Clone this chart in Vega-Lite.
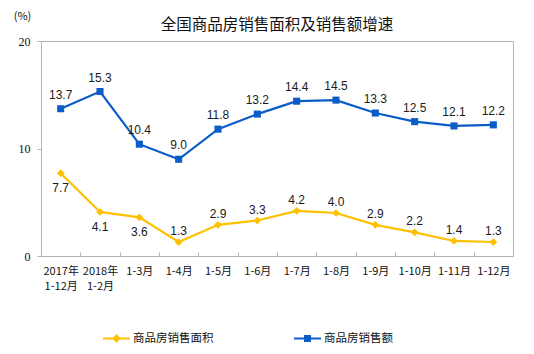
{
  "$schema": "https://vega.github.io/schema/vega-lite/v6.json",
  "autosize": "none",
  "width": 472,
  "height": 215,
  "padding": {"left": 41, "top": 41, "right": 21, "bottom": 98},
  "background": "white",
  "config": {
    "view": {"stroke": "#b4b4b4", "strokeWidth": 1},
    "axis": {"grid": false, "domainColor": "#b4b4b4", "tickColor": "#b4b4b4", "labelColor": "#111", "titleColor": "#111"}
  },
  "title": {
    "text": "全国商品房销售面积及销售额增速",
    "font": "Noto Sans CJK SC",
    "fontSize": 15.5,
    "fontWeight": "normal",
    "color": "#111",
    "anchor": "middle",
    "offset": 7,
    "dy": 30
  },
  "data": {
    "values": [
      {"period": "2017年 1-12月", "series": "商品房销售面积", "value": 7.7},
      {"period": "2018年 1-2月", "series": "商品房销售面积", "value": 4.1},
      {"period": "1-3月", "series": "商品房销售面积", "value": 3.6},
      {"period": "1-4月", "series": "商品房销售面积", "value": 1.3},
      {"period": "1-5月", "series": "商品房销售面积", "value": 2.9},
      {"period": "1-6月", "series": "商品房销售面积", "value": 3.3},
      {"period": "1-7月", "series": "商品房销售面积", "value": 4.2},
      {"period": "1-8月", "series": "商品房销售面积", "value": 4.0},
      {"period": "1-9月", "series": "商品房销售面积", "value": 2.9},
      {"period": "1-10月", "series": "商品房销售面积", "value": 2.2},
      {"period": "1-11月", "series": "商品房销售面积", "value": 1.4},
      {"period": "1-12月", "series": "商品房销售面积", "value": 1.3},
      {"period": "2017年 1-12月", "series": "商品房销售额", "value": 13.7},
      {"period": "2018年 1-2月", "series": "商品房销售额", "value": 15.3},
      {"period": "1-3月", "series": "商品房销售额", "value": 10.4},
      {"period": "1-4月", "series": "商品房销售额", "value": 9.0},
      {"period": "1-5月", "series": "商品房销售额", "value": 11.8},
      {"period": "1-6月", "series": "商品房销售额", "value": 13.2},
      {"period": "1-7月", "series": "商品房销售额", "value": 14.4},
      {"period": "1-8月", "series": "商品房销售额", "value": 14.5},
      {"period": "1-9月", "series": "商品房销售额", "value": 13.3},
      {"period": "1-10月", "series": "商品房销售额", "value": 12.5},
      {"period": "1-11月", "series": "商品房销售额", "value": 12.1},
      {"period": "1-12月", "series": "商品房销售额", "value": 12.2}
    ]
  },
  "encoding": {
    "x": {
      "field": "period", "type": "nominal", "sort": null, "bandPosition": 0.5,
      "scale": {"type": "band", "paddingInner": 0, "paddingOuter": 0},
      "axis": {
        "title": null, "labelAngle": 0, "tickBand": "extent", "tickSize": -4,
        "labelExpr": "split(datum.label, ' ')", "labelFont": "Noto Sans CJK SC", "labelFontSize": 11,
        "labelLineHeight": 15, "labelPadding": 13, "labelBaseline": "top"
      }
    },
    "y": {
      "field": "value", "type": "quantitative",
      "scale": {"domain": [0, 20], "nice": false},
      "axis": {
        "values": [0, 10, 20], "title": "(%)", "titleAngle": 0, "titleX": -19, "titleY": -25,
        "titleAlign": "center", "titleBaseline": "middle", "titleFont": "Noto Sans CJK SC", "titleFontSize": 11, "titleFontWeight": "normal",
        "labelFont": "Liberation Serif", "labelFontSize": 12, "tickSize": 4, "labelPadding": 7
      }
    },
    "color": {
      "field": "series", "type": "nominal", "sort": ["商品房销售面积", "商品房销售额"],
      "scale": {"domain": ["商品房销售面积", "商品房销售额"], "range": ["#FFC000", "#0A5CC7"]},
      "legend": {
        "title": null, "orient": "none", "direction": "horizontal", "columns": 2,
        "legendX": 62, "legendY": 284, "columnPadding": 80,
        "labelFont": "Noto Sans CJK SC", "labelFontSize": 11.5, "labelColor": "#111", "labelOffset": 3,
        "symbolSize": 729,
        "encode": {
          "symbols": {
            "update": {
              "shape": {"signal": "datum.value === '商品房销售面积' ? 'M-1,-0.08H1V0.08H-1Z M0,-0.32L0.32,0L0,0.32L-0.32,0Z' : 'M-1,-0.08H1V0.08H-1Z M-0.26,-0.26H0.26V0.26H-0.26Z'"},
              "fill": {"scale": "color", "field": "value"},
              "fillOpacity": {"value": 1},
              "strokeWidth": {"value": 0}
            }
          }
        }
      }
    }
  },
  "layer": [
    {"mark": {"type": "line", "strokeWidth": 2.2}},
    {
      "transform": [{"filter": "datum.series === '商品房销售面积'"}],
      "mark": {"type": "point", "filled": true, "opacity": 1, "shape": "diamond", "size": 60}
    },
    {
      "transform": [{"filter": "datum.series === '商品房销售额'"}],
      "mark": {"type": "point", "filled": true, "opacity": 1, "shape": "square", "size": 50}
    },
    {
      "transform": [{"filter": "datum.series === '商品房销售额'"}],
      "mark": {"type": "text", "dy": -14, "font": "Liberation Sans", "fontSize": 12},
      "encoding": {"text": {"field": "value", "type": "quantitative", "format": ".1f"}, "color": {"value": "#1a1a1a"}}
    },
    {
      "transform": [{"filter": "datum.series === '商品房销售面积' && indexof(['2017年 1-12月','2018年 1-2月','1-3月'], datum.period) >= 0"}],
      "mark": {"type": "text", "dy": 15, "font": "Liberation Sans", "fontSize": 12},
      "encoding": {"text": {"field": "value", "type": "quantitative", "format": ".1f"}, "color": {"value": "#1a1a1a"}}
    },
    {
      "transform": [{"filter": "datum.series === '商品房销售面积' && indexof(['2017年 1-12月','2018年 1-2月','1-3月'], datum.period) < 0"}],
      "mark": {"type": "text", "dy": -11, "font": "Liberation Sans", "fontSize": 12},
      "encoding": {"text": {"field": "value", "type": "quantitative", "format": ".1f"}, "color": {"value": "#1a1a1a"}}
    }
  ]
}
